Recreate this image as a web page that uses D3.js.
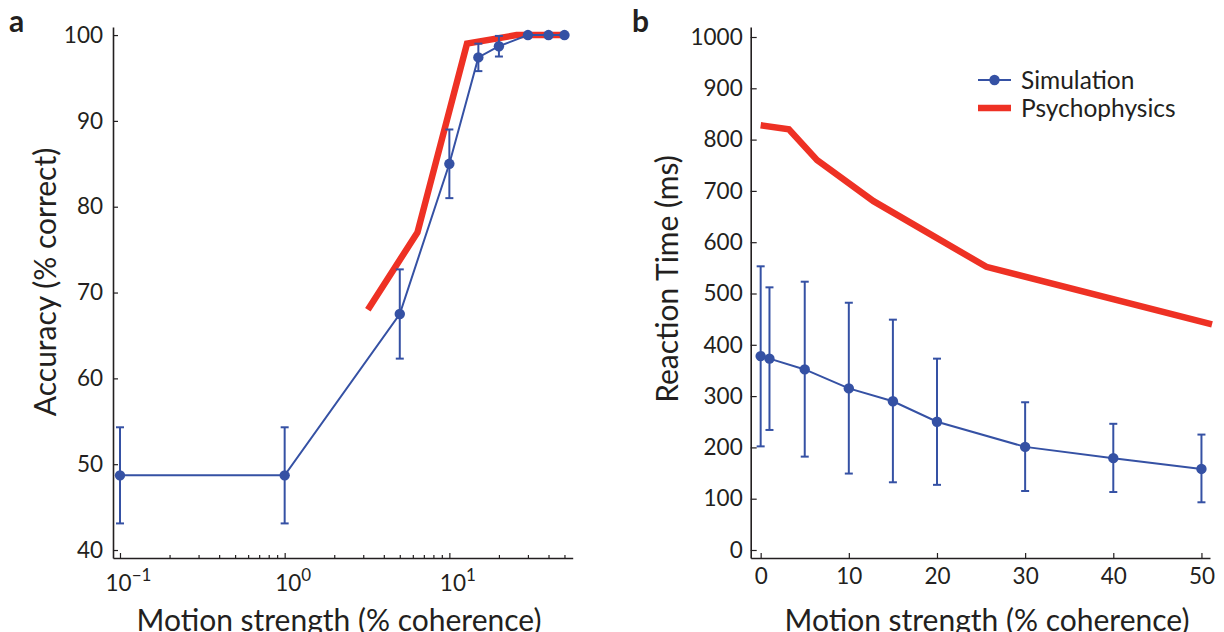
<!DOCTYPE html>
<html>
<head>
<meta charset="utf-8">
<script src="https://cdn.jsdelivr.net/npm/d3@7"></script>
<style>
  body { margin: 0; background: #fff; }
  svg text { font-family: Lato, "Open Sans", sans-serif; fill: #231f20; }
</style>
</head>
<body>
<script>
// ---- data ----
// panel a : accuracy vs coherence (log x)
var accCoh = [0.1, 1, 5, 10, 15, 20, 30, 40, 50];
var accSim = [48.7, 48.7, 67.5, 85, 97.4, 98.7, 100, 100, 100];
var accLo  = [43.1, 43.1, 62.3, 81, 95.8, 97.5, 99.9, 99.9, 99.9];
var accHi  = [54.3, 54.3, 72.7, 89, 99.0, 99.9, 100.1, 100.1, 100.1];
var accPsyCoh = [3.2, 6.4, 12.8, 25.6, 51.2];
var accPsy    = [68, 77, 99, 100, 100];
var accTicks  = [40, 50, 60, 70, 80, 90, 100];

// panel b : reaction time vs coherence
var rtCoh = [0, 1, 5, 10, 15, 20, 30, 40, 50];
var rtSim = [378, 373, 352, 315, 290, 250, 201, 179, 158];
var rtLo  = [202, 234, 182, 149, 132, 127, 115, 113, 93];
var rtHi  = [553, 512, 523, 482, 449, 373, 288, 246, 225];
var rtPsyCoh = [0, 3.2, 6.4, 12.8, 25.6, 51.2];
var rtPsy    = [828, 820, 760, 680, 552, 440];
var rtTicks  = [0, 100, 200, 300, 400, 500, 600, 700, 800, 900, 1000];
var cohTicks = [0, 10, 20, 30, 40, 50];

var seriesNames = ["Simulation", "Psychophysics"];

var blue = "#3551a4", red = "#ee3124", ink = "#231f20";

var svg = d3.select("body").append("svg")
  .attr("width", 1224).attr("height", 632);

/***** scales *****/
var xA = d3.scaleLog().domain([0.0907, 56.1]).range([113, 572.7]);
var yA = d3.scaleLinear().domain([39.07, 100.94]).range([558, 27]);
var xB = d3.scaleLinear().domain([-1.13, 50.97]).range([750.7, 1210]);
var yB = d3.scaleLinear().domain([-15.6, 1019.5]).range([558, 27]);

function styleAxis(g) {
  g.attr("font-size", null).attr("font-family", null);
  g.select(".domain").attr("stroke", ink).attr("stroke-width", 1.6);
  g.selectAll(".tick line").attr("stroke", ink).attr("stroke-width", 1.2);
  g.selectAll(".tick text").attr("font-size", 22.5).attr("fill", ink);
}

/***** panel a *****/
var logTicks = xA.ticks().filter(function(v) { return v >= 0.1 - 1e-9; });
function isMajor(v) { return Math.abs(Math.log10(v) - Math.round(Math.log10(v))) < 1e-6; }

var gxA = svg.append("g").attr("transform", "translate(0,558)")
  .call(d3.axisBottom(xA).tickValues(logTicks).tickSizeInner(-3).tickSizeOuter(0)
    .tickPadding(10).tickFormat(function(v) { return isMajor(v) ? "10" : ""; }));
styleAxis(gxA);
gxA.selectAll(".tick line").attr("y2", function(v) { return isMajor(v) ? -5 : -3; });
gxA.selectAll(".tick text")
  .filter(function(v) { return isMajor(v); })
  .attr("dy", "1em").attr("x", 8)
  .each(function(v) {
    d3.select(this).append("tspan")
      .attr("dy", -10).attr("font-size", 17)
      .text(String(Math.round(Math.log10(v))).replace("-", "\u2212"));
  });

var gyA = svg.append("g").attr("transform", "translate(113,0)")
  .call(d3.axisLeft(yA).tickValues(accTicks).tickSizeInner(-5).tickSizeOuter(0).tickPadding(10));
styleAxis(gyA);

// psychophysics line
svg.append("path")
  .datum(accPsyCoh.map(function(c, i) { return [c, accPsy[i]]; }))
  .attr("fill", "none").attr("stroke", red).attr("stroke-width", 6.5)
  .attr("d", d3.line().x(function(d) { return xA(d[0]); }).y(function(d) { return yA(d[1]); }));

var simA = accCoh.map(function(c, i) { return { x: c, y: accSim[i], lo: accLo[i], hi: accHi[i] }; });
drawSim(simA, xA, yA);

/***** panel b *****/
var gxB = svg.append("g").attr("transform", "translate(0,558)")
  .call(d3.axisBottom(xB).tickValues(cohTicks).tickSizeInner(-5).tickSizeOuter(0).tickPadding(10));
styleAxis(gxB);

var gyB = svg.append("g").attr("transform", "translate(750.7,0)")
  .call(d3.axisLeft(yB).tickValues(rtTicks).tickFormat(d3.format("d"))
    .tickSizeInner(-6).tickSizeOuter(0).tickPadding(8));
styleAxis(gyB);

svg.append("path")
  .datum(rtPsyCoh.map(function(c, i) { return [c, rtPsy[i]]; }))
  .attr("fill", "none").attr("stroke", red).attr("stroke-width", 6.5)
  .attr("d", d3.line().x(function(d) { return xB(d[0]); }).y(function(d) { return yB(d[1]); }));

var simB = rtCoh.map(function(c, i) { return { x: c, y: rtSim[i], lo: rtLo[i], hi: rtHi[i] }; });
drawSim(simB, xB, yB);

function drawSim(data, x, y) {
  var g = svg.append("g");
  var err = g.selectAll(".err").data(data).enter().append("g")
    .attr("stroke", blue).attr("stroke-width", 2);
  err.append("line")
    .attr("x1", function(d) { return x(d.x); }).attr("x2", function(d) { return x(d.x); })
    .attr("y1", function(d) { return y(d.lo); }).attr("y2", function(d) { return y(d.hi); });
  err.append("line")
    .attr("x1", function(d) { return x(d.x) - 4; }).attr("x2", function(d) { return x(d.x) + 4; })
    .attr("y1", function(d) { return y(d.lo); }).attr("y2", function(d) { return y(d.lo); });
  err.append("line")
    .attr("x1", function(d) { return x(d.x) - 4; }).attr("x2", function(d) { return x(d.x) + 4; })
    .attr("y1", function(d) { return y(d.hi); }).attr("y2", function(d) { return y(d.hi); });
  g.append("path").datum(data)
    .attr("fill", "none").attr("stroke", blue).attr("stroke-width", 2)
    .attr("d", d3.line().x(function(d) { return x(d.x); }).y(function(d) { return y(d.y); }));
  g.selectAll("circle").data(data).enter().append("circle")
    .attr("cx", function(d) { return x(d.x); }).attr("cy", function(d) { return y(d.y); })
    .attr("r", 5.2).attr("fill", blue);
}

/***** titles *****/
svg.append("text").attr("x", 9).attr("y", 32).attr("font-size", 30).attr("font-weight", "bold").text("a");
svg.append("text").attr("x", 632).attr("y", 32).attr("font-size", 30).attr("font-weight", "bold").text("b");

svg.append("text").attr("transform", "translate(56,282) rotate(-90)")
  .attr("text-anchor", "middle").attr("font-size", 30).text("Accuracy (% correct)");
svg.append("text").attr("transform", "translate(678,279) rotate(-90)")
  .attr("text-anchor", "middle").attr("font-size", 30).text("Reaction Time (ms)");

svg.append("text").attr("x", 339).attr("y", 631)
  .attr("text-anchor", "middle").attr("font-size", 30).text("Motion strength (% coherence)");
svg.append("text").attr("x", 987).attr("y", 631)
  .attr("text-anchor", "middle").attr("font-size", 30).text("Motion strength (% coherence)");

/***** legend *****/
var leg = svg.append("g").attr("transform", "translate(978,80)");
leg.append("line").attr("x1", 0).attr("x2", 33).attr("stroke", blue).attr("stroke-width", 2);
leg.append("circle").attr("cx", 16.5).attr("r", 5.2).attr("fill", blue);
leg.append("line").attr("x1", 0).attr("x2", 33).attr("y1", 28).attr("y2", 28)
  .attr("stroke", red).attr("stroke-width", 6.5);
leg.selectAll("text").data(seriesNames).enter().append("text")
  .attr("x", 43).attr("y", function(d, i) { return i * 28 + 8.5; })
  .attr("font-size", 24.5).text(function(d) { return d; });
</script>
</body>
</html>
